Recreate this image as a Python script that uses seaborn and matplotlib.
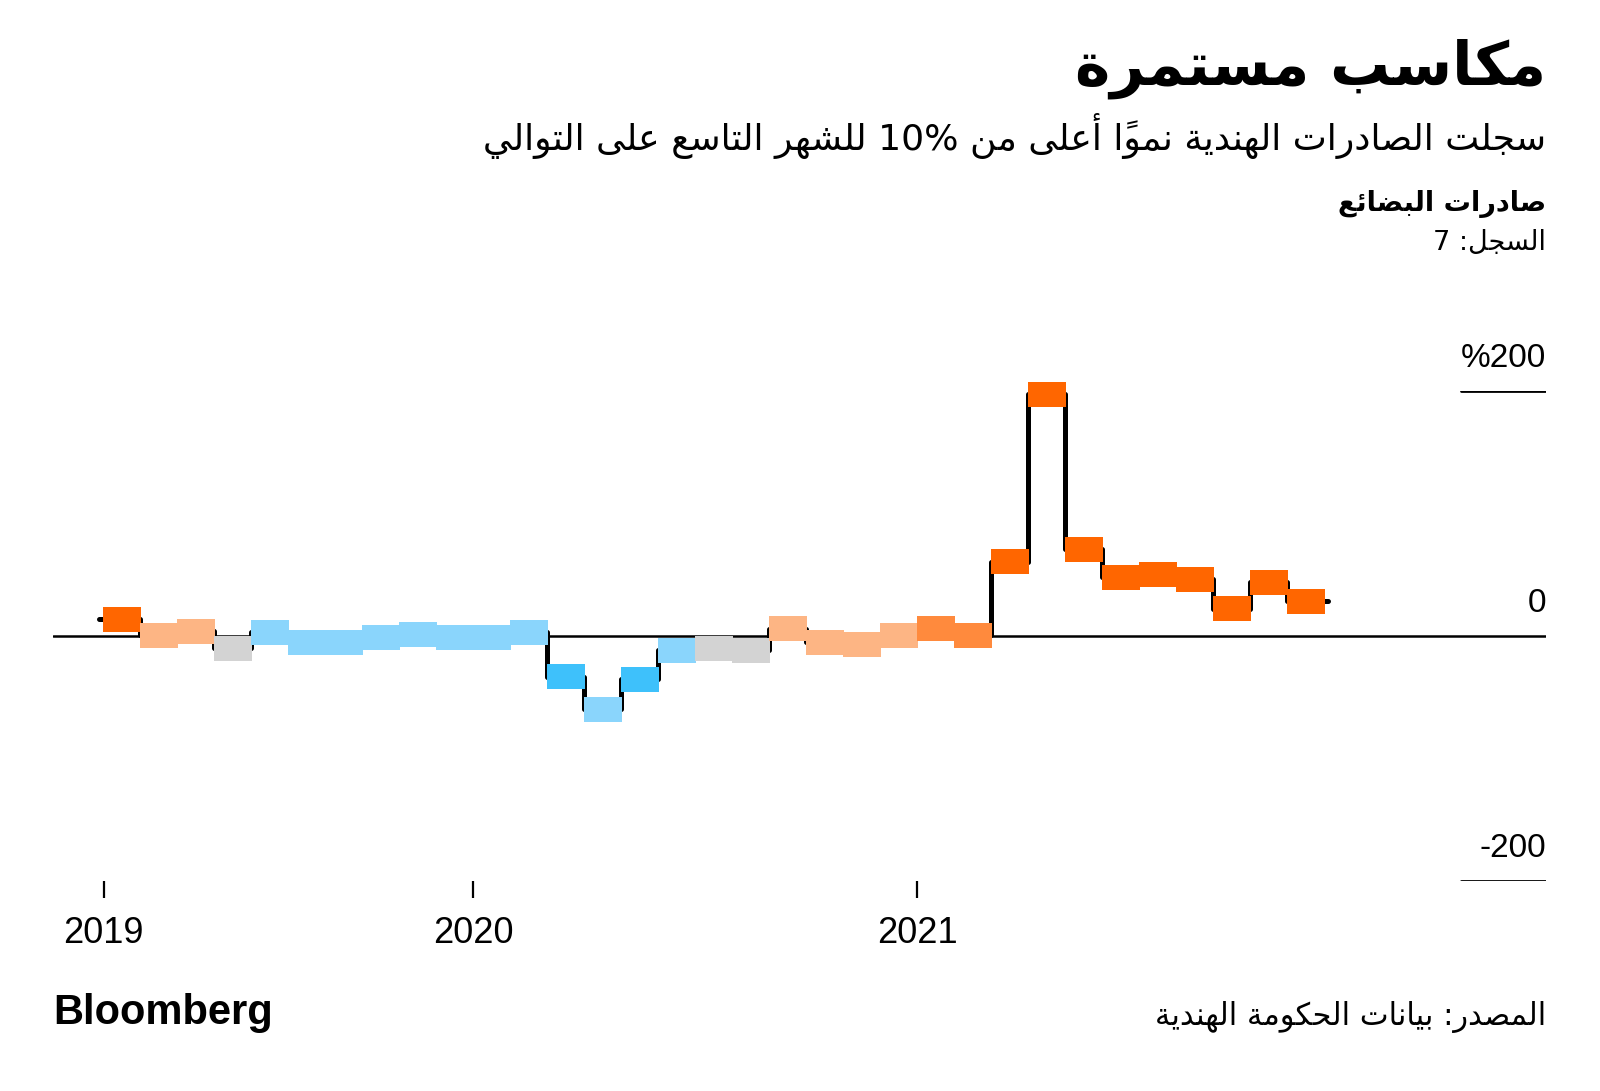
import numpy as np
import pandas as pd
import matplotlib
matplotlib.use("Agg")
import matplotlib.pyplot as plt
import seaborn as sns

# ---- data ----
months = pd.date_range("2019-03-01", "2021-11-01", freq="MS")
growth = [13.5, 0.5, 3.9, -10.2, 3.1, -5.2, -5.2, -1.1, 1.2, -1.5,
          -1.5, 3.1, -33.2, -59.6, -35.4, -11.8, -10.5, -11.8, 6.1, -5.3, -7.1, 0.8,
          6.5, 0.8, 60.5, 197.4, 70.9, 47.8, 50.2, 46.4, 22.4, 43.9, 28.2]
shade = ["dark", "light", "light", "grey", "lblue", "lblue", "lblue", "lblue", "lblue", "lblue",
         "lblue", "lblue", "blue", "lblue", "blue", "lblue", "grey", "grey", "light", "light", "light", "light",
         "mid", "mid", "dark", "dark", "dark", "dark", "dark", "dark", "dark", "dark", "dark"]
palette = {"dark": "#ff6600", "mid": "#ff8a3d", "light": "#fdb584",
           "grey": "#d3d3d3", "lblue": "#8ad5fc", "blue": "#3ec1fb"}
years = [2019, 2020, 2021]
y_ticks = [-200, 0, 200]
y_labels = ["-200", "0", "%200"]

title = "مكاسب مستمرة"
subtitle = "سجلت الصادرات الهندية نمواً أعلى من 10% للشهر التاسع على التوالي"
panel = "صادرات البضائع"
record = "السجل: 7"
source = "المصدر: بيانات الحكومة الهندية"

# ---- minimal arabic shaping + rtl ordering (matplotlib has no text shaping) ----
RIGHT = {'\u0622': 0xFE81, '\u0623': 0xFE83, '\u0624': 0xFE85, '\u0625': 0xFE87, '\u0627': 0xFE8D,
         '\u0629': 0xFE93, '\u062F': 0xFEA9, '\u0630': 0xFEAB, '\u0631': 0xFEAD, '\u0632': 0xFEAF,
         '\u0648': 0xFEED, '\u0649': 0xFEEF}
DUAL = {'\u0626': 0xFE89, '\u0628': 0xFE8F, '\u062A': 0xFE95, '\u062B': 0xFE99, '\u062C': 0xFE9D,
        '\u062D': 0xFEA1, '\u062E': 0xFEA5, '\u0633': 0xFEB1, '\u0634': 0xFEB5, '\u0635': 0xFEB9,
        '\u0636': 0xFEBD, '\u0637': 0xFEC1, '\u0638': 0xFEC5, '\u0639': 0xFEC9, '\u063A': 0xFECD,
        '\u0641': 0xFED1, '\u0642': 0xFED5, '\u0643': 0xFED9, '\u0644': 0xFEDD, '\u0645': 0xFEE1,
        '\u0646': 0xFEE5, '\u0647': 0xFEE9, '\u064A': 0xFEF1}
LAM_ALEF = {'\u0622': 0xFEF5, '\u0623': 0xFEF7, '\u0625': 0xFEF9, '\u0627': 0xFEFB}


def shape_rtl(run):
    units = []
    i = 0
    while i < len(run):
        ch = run[i]
        if '\u064B' <= ch <= '\u0652' and units:
            units[-1][2] += ch
        elif ch == '\u0644' and i + 1 < len(run) and run[i + 1] in LAM_ALEF:
            units.append(["right", LAM_ALEF[run[i + 1]], ""])
            i += 1
        elif ch in DUAL:
            units.append(["dual", DUAL[ch], ""])
        elif ch in RIGHT:
            units.append(["right", RIGHT[ch], ""])
        else:
            units.append(["none", ch, ""])
        i += 1
    out = []
    for k, (kind, base, marks) in enumerate(units):
        if kind == "none":
            out.append(base + marks)
            continue
        jp = k > 0 and units[k - 1][0] == "dual"
        jn = kind == "dual" and k + 1 < len(units) and units[k + 1][0] != "none"
        if kind == "right":
            g = base + (1 if jp else 0)
        else:
            g = base + {(False, False): 0, (True, False): 1, (False, True): 2, (True, True): 3}[(jp, jn)]
        out.append(chr(g) + marks)
    return "".join(reversed(out))


def ar(text):
    runs, cur, cur_ltr = [], "", None
    for ch in text:
        ltr = ch.isascii() and (ch.isalnum() or ch == "%")
        if cur and ltr != cur_ltr:
            runs.append((cur, cur_ltr))
            cur = ""
        cur += ch
        cur_ltr = ltr
    runs.append((cur, cur_ltr))
    return "".join(r if l else shape_rtl(r) for r, l in reversed(runs))


# ---- figure ----
sns.set_style("white")
plt.rcParams["font.family"] = ["Liberation Sans", "DejaVu Sans"]
plt.rcParams["text.color"] = "black"
plt.rcParams["xtick.color"] = "black"
AR = ["DejaVu Sans"]

fig = plt.figure(figsize=(16, 10.91), dpi=100)
ax = fig.add_axes([53 / 1600, 1 - 881 / 1091, (1546 - 53) / 1600, 490 / 1091])

n = len(growth)
idx = np.arange(n)
df = pd.DataFrame({"month": months, "growth": growth, "shade": shade, "i": idx})

# black step line behind the blocks
step_x = np.r_[-0.12, idx[1:], n + 0.1]
step_y = np.r_[growth, growth[-1]]
sns.lineplot(x=step_x, y=step_y, ax=ax, color="black", lw=3.6,
             drawstyle="steps-post", solid_capstyle="round", solid_joinstyle="round", zorder=2)

# coloured month blocks
block_h = 20.4
ax.bar(df["i"] + 0.5, block_h, width=1.02, bottom=df["growth"] - block_h / 2,
       color=[palette[s] for s in df["shade"]], linewidth=0, zorder=3, clip_on=False)

ax.set_xlim(-1.365, 38.99)
ax.set_ylim(-200, 200)

# horizontal references
ax.axhline(0, color="black", lw=1.8, zorder=1)
for t, lab in zip(y_ticks, y_labels):
    if t != 0:
        ax.axhline(t, xmin=0.943, xmax=1, color="black", lw=2.0)
    ax.annotate(lab, xy=(1, t), xycoords=("axes fraction", "data"), xytext=(0, 12),
                textcoords="offset points", ha="right", va="bottom", fontsize=24, color="black")

year_pos = [int(np.argmax(df["month"].dt.year == y)) for y in years]
ax.set_xticks(year_pos)
ax.set_xticklabels([str(y) for y in years], fontsize=26)
ax.set_yticks([])
ax.tick_params(axis="x", bottom=True, length=12, width=1.6, pad=13, color="black", labelcolor="black")
for s in ax.spines.values():
    s.set_visible(False)

# texts
fig.text(1546 / 1600, 1 - 69 / 1091, ar(title), ha="right", va="center",
         fontsize=43, fontweight="bold", family=AR)
fig.text(1546 / 1600, 1 - 136 / 1091, ar(subtitle), ha="right", va="center", fontsize=26, family=AR)
fig.text(1546 / 1600, 1 - 204 / 1091, ar(panel), ha="right", va="center",
         fontsize=19.5, fontweight="bold", family=AR)
fig.text(1546 / 1600, 1 - 243 / 1091, ar(record), ha="right", va="center", fontsize=19.5, family=AR)
fig.text(1546 / 1600, 1 - 1017 / 1091, ar(source), ha="right", va="center", fontsize=22, family=AR)
fig.text(53 / 1600, 1 - 1013 / 1091, "Bloomberg", ha="left", va="center",
         fontsize=30, fontweight="bold")

fig.savefig("out.png", dpi=100)
